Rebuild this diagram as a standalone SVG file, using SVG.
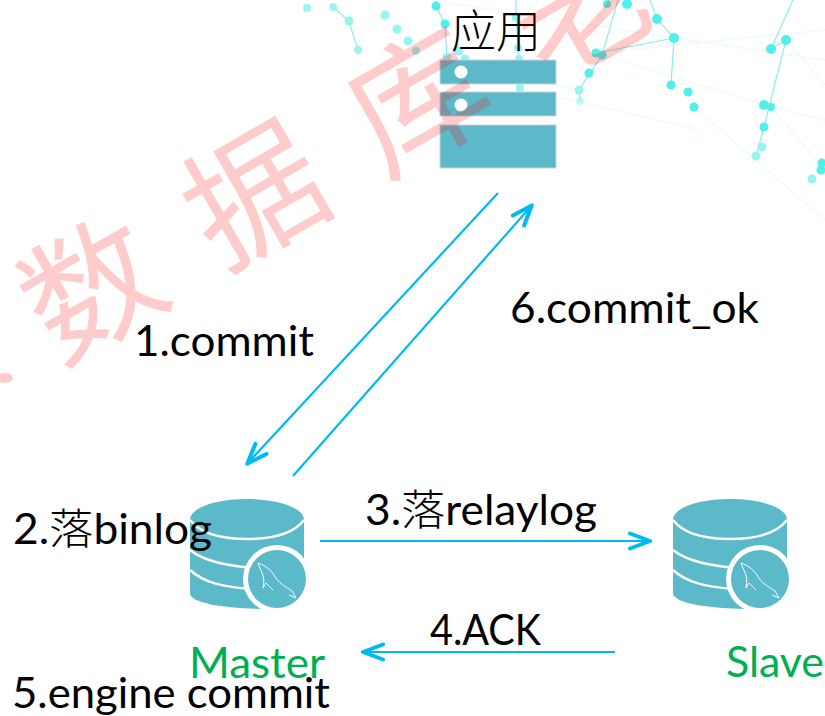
<svg xmlns="http://www.w3.org/2000/svg" width="825" height="716" viewBox="0 0 825 716">
<style>
.c{font-family:"Lato","Noto Sans CJK SC",sans-serif;font-size:42px;fill:#000}
.z{font-family:"Noto Sans CJK SC",sans-serif;font-weight:300}
.g{font-family:"Lato",sans-serif;font-size:42px;fill:#00b050}
.w{font-family:"Noto Sans CJK SC",sans-serif;font-size:136px;font-weight:400;fill:#f00;fill-opacity:.2}
.d{fill:#5bb9c9}
.b{fill:#5bb9c9;stroke:#d0d4d8;stroke-width:1}
.l{stroke:#00b9f0;stroke-width:2.2;fill:none}
.n1{fill:#4ff0ea}
.n2{fill:#97f5f1}
.f{stroke:#8ae8f0;stroke-width:1.1;fill:none}
.h{stroke:#eefbfc;stroke-width:1.5;fill:none}
.s{fill:none;stroke:#fff;stroke-width:2.5}
.fm{fill:none;stroke:#fff;stroke-width:1}
</style>
<defs>
<marker id="a" viewBox="0 0 26 20" refX="25" refY="10" markerWidth="26" markerHeight="20" markerUnits="userSpaceOnUse" orient="auto"><path d="M3 2.5 23 10 3 17.5" fill="none" stroke="#00b9f0" stroke-width="4" stroke-linecap="round" stroke-linejoin="round"/></marker>
<g id="db">
<path class="d" d="M0 21C0 9 25 0 57 0S114 9 114 21V60L80 110C40 110 0 105 0 94Z"/>
<path class="s" d="M0 21C10 34 30 40 57 40S104 34 114 21M0 51C14 62 34 66 62 69M0 71C14 84 34 88 62 90"/>
<circle cx="87" cy="80" r="34" fill="#fff"/>
<circle class="d" cx="87" cy="80" r="29"/>
<path class="fm" d="M68 64C74 66 80 70 84 76C88 84 96 88 102 92L106 99 99 96M68 64C70 72 76 76 73 89L76 84 83 91"/>
</g>
</defs>
<rect width="825" height="716" fill="#fff"/>
<g id="background">
<g class="h">
<path d="M596 53 825 30M674 38 825 60M602 55 764 105 825 120M771 107 825 170M786 40 825 85M694 107 825 220M579 90 420 60M430 0 674 38M520 88 700 130"/>
</g>
<g class="f">
<path d="M333 7 349 21 358 50M436 6 445 24 447 57M516 0 516 17 518 48 520 88M618 0 602 55 579 90 580 101M596 53 674 38M650 0 657 19 674 38 671 85M793 0 771 49 786 40 764 127 756 156"/>
</g>
<g class="n2">
<circle cx="307" cy="8" r="4"/><circle cx="333" cy="7" r="4"/><circle cx="349" cy="21" r="4.5"/><circle cx="358" cy="50" r="4"/><circle cx="385" cy="15" r="4.5"/><circle cx="397" cy="29" r="4.5"/><circle cx="408" cy="41" r="4.5"/><circle cx="416" cy="51" r="4"/><circle cx="447" cy="57" r="4.5"/><circle cx="459" cy="51" r="4.5"/><circle cx="465" cy="59" r="4.5"/><circle cx="516" cy="17" r="4.5"/><circle cx="518" cy="48" r="4"/><circle cx="519" cy="59" r="4"/><circle cx="520" cy="88" r="4"/><circle cx="579" cy="90" r="4.5"/><circle cx="580" cy="101" r="4" opacity=".6"/><circle cx="756" cy="156" r="4.5"/><circle cx="812" cy="179" r="4.5"/><circle cx="762" cy="147" r="4.5"/>
</g>
<g class="n1">
<circle cx="436" cy="6" r="4.5"/><circle cx="445" cy="24" r="4.5"/><circle cx="607" cy="4" r="4"/><circle cx="627" cy="4" r="5"/><circle cx="657" cy="19" r="5"/><circle cx="674" cy="38" r="5"/><circle cx="596" cy="53" r="4.5"/><circle cx="602" cy="55" r="4.5"/><circle cx="589" cy="73" r="4.5"/><circle cx="671" cy="85" r="4.5"/><circle cx="688" cy="92" r="4.5"/><circle cx="694" cy="107" r="4.5"/><circle cx="771" cy="49" r="5"/><circle cx="786" cy="40" r="5"/><circle cx="764" cy="105" r="5"/><circle cx="771" cy="107" r="4"/><circle cx="764" cy="127" r="4.5"/><circle cx="822" cy="163" r="4.5"/><circle cx="821" cy="170" r="4.5"/>
</g>
</g>
<g id="app">
<rect class="b" x="440" y="60" width="116" height="24"/>
<rect class="b" x="440" y="92" width="116" height="24"/>
<rect class="b" x="440" y="125" width="116" height="43"/>
<circle cx="461" cy="72" r="6.5" fill="#fff"/>
<circle cx="461" cy="105" r="6.5" fill="#fff"/>
<text class="z" x="451" y="48" font-size="45">应用</text>
</g>
<g id="watermark">
<ellipse cx="5" cy="378" rx="8" ry="5" fill="#f00" fill-opacity=".2"/>
<text class="w" transform="translate(58 366) rotate(-30)" letter-spacing="52">数据库老</text>
</g>
<g id="connectors">
<line class="l" x1="498" y1="193" x2="246" y2="465" marker-end="url(#a)"/>
<line class="l" x1="293" y1="476" x2="533" y2="204" marker-end="url(#a)"/>
<line class="l" x1="320" y1="541" x2="652" y2="541" marker-end="url(#a)"/>
<line class="l" x1="615" y1="652" x2="361" y2="652" marker-end="url(#a)"/>
</g>
<g id="master"><use href="#db" x="190" y="499"/><text class="g" x="189" y="678" textLength="136" lengthAdjust="spacingAndGlyphs">Master</text></g>
<g id="slave"><use href="#db" x="673" y="499"/><text class="g" x="726" y="677" textLength="98" lengthAdjust="spacingAndGlyphs">Slave</text></g>
<g id="labels">
<text class="c" x="134" y="356" textLength="180" lengthAdjust="spacingAndGlyphs">1.commit</text>
<text class="c" x="510" y="323" textLength="249" lengthAdjust="spacingAndGlyphs">6.commit_ok</text>
<text class="c" x="13" y="544" textLength="199" lengthAdjust="spacingAndGlyphs">2.<tspan class="z">落</tspan>binlog</text>
<text class="c" x="365" y="525" textLength="232" lengthAdjust="spacingAndGlyphs">3.<tspan class="z">落</tspan>relaylog</text>
<text class="c" x="430" y="645" textLength="111" lengthAdjust="spacingAndGlyphs">4.ACK</text>
<text class="c" x="12" y="708" textLength="318" lengthAdjust="spacingAndGlyphs">5.engine commit</text>
</g>
</svg>
